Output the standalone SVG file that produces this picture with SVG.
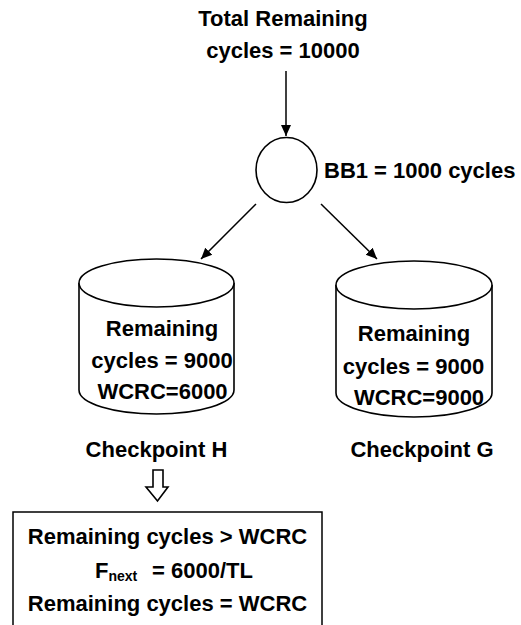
<svg xmlns="http://www.w3.org/2000/svg" width="521" height="625" viewBox="0 0 521 625">
  <style>
    text { font-family: "Liberation Sans", Arial, sans-serif; font-weight: bold; font-size: 22px; fill: #000; }
    .mid { text-anchor: middle; }
    .shape { fill: #fff; stroke: #000; stroke-width: 1.6; }
    .edge { fill: none; stroke: #000; stroke-width: 1.5; }
  </style>
  <defs>
    <marker id="arrow" markerUnits="userSpaceOnUse" markerWidth="12" markerHeight="12" viewBox="0 0 12 12" refX="11" refY="6" orient="auto">
      <path d="M0,1 L11,6 L0,11 Z" fill="#000"/>
    </marker>
  </defs>

  <!-- input label -->
  <g id="total">
    <text class="mid" x="283" y="26">Total Remaining</text>
    <text class="mid" x="283" y="58">cycles = 10000</text>
  </g>

  <!-- basic block -->
  <g id="bb1">
    <ellipse class="shape" cx="286.5" cy="170" rx="30.5" ry="32.5"/>
    <text x="324" y="178">BB1 = 1000 cycles</text>
  </g>

  <!-- checkpoint H -->
  <g id="checkpointH">
    <path class="shape" d="M79,283 L79,390 A77.5,24 0 0 0 234,390 L234,283"/>
    <ellipse class="shape" cx="156.5" cy="283" rx="77.5" ry="24"/>
    <text class="mid" x="162" y="336">Remaining</text>
    <text class="mid" x="162" y="368">cycles = 9000</text>
    <text class="mid" x="162.5" y="399">WCRC=6000</text>
    <text class="mid" x="156.5" y="457">Checkpoint H</text>
  </g>

  <!-- checkpoint G -->
  <g id="checkpointG">
    <path class="shape" d="M336,285 L336,393 A78,24 0 0 0 492,393 L492,285"/>
    <ellipse class="shape" cx="414" cy="285" rx="78" ry="24"/>
    <text class="mid" x="414" y="341">Remaining</text>
    <text class="mid" x="413.5" y="374">cycles = 9000</text>
    <text class="mid" x="419" y="405">WCRC=9000</text>
    <text class="mid" x="422" y="457">Checkpoint G</text>
  </g>

  <!-- decision box -->
  <g id="decision">
    <path class="edge" d="M13,626 L13,512 L322,512 L322,626"/>
    <text class="mid" x="167.5" y="544">Remaining cycles &gt; WCRC</text>
    <text x="95" y="578">F<tspan font-size="14" dy="3">next</tspan><tspan x="152" dy="-3">= 6000/TL</tspan></text>
    <text class="mid" x="167.5" y="611">Remaining cycles = WCRC</text>
  </g>

  <!-- connectors -->
  <g id="connectors">
    <line class="edge" x1="286" y1="71" x2="286" y2="136" marker-end="url(#arrow)"/>
    <line class="edge" x1="256" y1="204" x2="201" y2="259" marker-end="url(#arrow)"/>
    <line class="edge" x1="321" y1="204" x2="377" y2="259" marker-end="url(#arrow)"/>
    <path class="shape" stroke-width="1.3" d="M153,470 L163,470 L163,487 L168,487 L157.5,501 L146,487 L153,487 Z"/>
  </g>
</svg>
